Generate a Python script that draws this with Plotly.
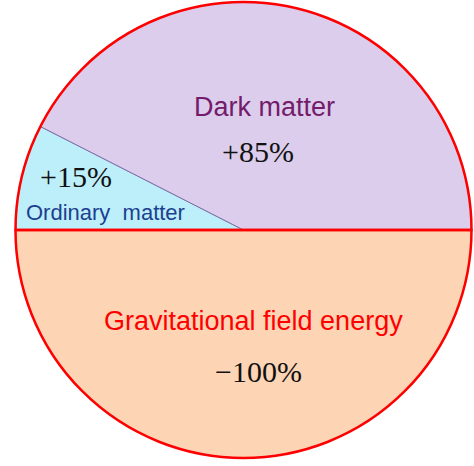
import plotly.graph_objects as go

# Data (clockwise from 9 o'clock)
labels = ["Ordinary matter", "Dark matter", "Gravitational field energy"]
shares = [15, 85, -100]
share_text = ["+15%", "+85%", "\u2212100%"]
slice_colors = ["#bdeffb", "#dbcdeb", "#fdd4b4"]
label_colors = ["#203f8f", "#741b6c", "#ff0000"]

W, H = 474, 466
values = [abs(v) for v in shares]
pos_total = sum(v for v in shares if v > 0)
neg_total = sum(-v for v in shares if v < 0)

dom_x = [15 / W, 472 / W]
dom_y = [1 - 458 / H, 1 - 2 / H]

fig = go.Figure()
fig.add_trace(go.Pie(
    labels=labels, values=values, sort=False, direction="clockwise",
    rotation=270, textinfo="none", hoverinfo="skip",
    marker=dict(colors=slice_colors, line=dict(color="#8070a8", width=1)),
    domain=dict(x=dom_x, y=dom_y), showlegend=False,
))
fig.add_trace(go.Pie(
    labels=["positive", "negative"], values=[pos_total, neg_total], sort=False,
    direction="clockwise", rotation=270, textinfo="none", hoverinfo="skip",
    marker=dict(colors=["rgba(0,0,0,0)", "rgba(0,0,0,0)"],
                line=dict(color="#ff0000", width=2.5)),
    domain=dict(x=dom_x, y=dom_y), showlegend=False,
))

# label positions (pixels)
name_pos = [(105, 212, 22), (264, 107, 27), (253, 321, 27)]
val_pos = [(76, 176), (258, 151), (258, 371)]
name_text = ["Ordinary&nbsp; matter", labels[1], labels[2]]

for i in range(len(labels)):
    nx, ny, fs = name_pos[i]
    fig.add_annotation(x=nx / W, y=1 - ny / H, xref="paper", yref="paper",
                       xanchor="center", yanchor="middle",
                       text=name_text[i], showarrow=False,
                       font=dict(family="Liberation Sans, Arial", size=fs, color=label_colors[i]))
    vx, vy = val_pos[i]
    fig.add_annotation(x=vx / W, y=1 - vy / H, xref="paper", yref="paper",
                       xanchor="center", yanchor="middle",
                       text=share_text[i], showarrow=False,
                       font=dict(family="Liberation Serif, serif", size=30, color="#111111"))

fig.update_layout(width=W, height=H, margin=dict(l=0, r=0, t=0, b=0),
                  paper_bgcolor="white", plot_bgcolor="white")
fig.write_html("out.html", config={"displayModeBar": False},
               post_script="document.body.style.margin='0';document.body.style.overflow='hidden';")
